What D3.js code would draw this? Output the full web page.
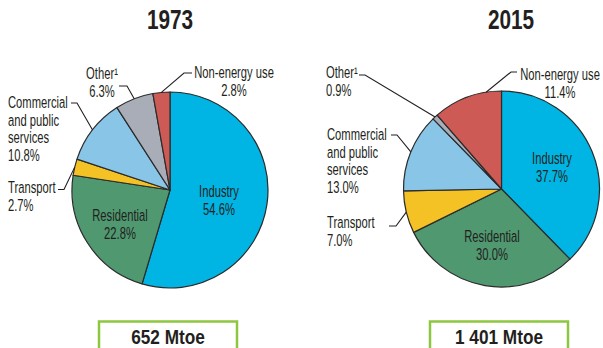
<!DOCTYPE html>
<html>
<head>
<meta charset="utf-8">
<script src="https://cdn.jsdelivr.net/npm/d3@7"></script>
<style>
  html, body { margin: 0; padding: 0; background: #ffffff; }
  svg { display: block; }
  text { font-family: "Liberation Sans", Arial, Helvetica, sans-serif; fill: #231f20; }
</style>
</head>
<body>
<svg id="chart" width="603" height="348"></svg>
<script>
// Final energy consumption by sector, shares in percent
const categories = ["Industry", "Residential", "Transport", "Commercial and public services", "Other\u00B9", "Non-energy use"];
const values1973 = [54.6, 22.8, 2.7, 10.8, 6.3, 2.8];
const values2015 = [37.7, 30.0, 7.0, 13.0, 0.9, 11.4];
const years = ["1973", "2015"];
const totals = ["652 Mtoe", "1 401 Mtoe"];
const sliceColors = ["#00b4e3", "#4f9870", "#f5c226", "#88c5e6", "#a8adb8", "#cd5a55"];

// Line breaks used for the sector names
const nameLines = {
  "Industry": ["Industry"],
  "Residential": ["Residential"],
  "Transport": ["Transport"],
  "Commercial and public services": ["Commercial", "and public", "services"],
  "Other\u00B9": ["Other\u00B9"],
  "Non-energy use": ["Non-energy use"]
};

// Placement of each pie and its labels
const panels = [
  {
    values: values1973, cx: 170, cy: 190, r: 98, titleX: 170, boxX: 99,
    labels: {
      "Industry":        { x: 219, y: 197, anchor: "middle" },
      "Residential":     { x: 120, y: 221, anchor: "middle" },
      "Transport":       { x: 8,   y: 193, anchor: "start",  leader: { x0: 58,  x1: 64,  y: 189.5 } },
      "Commercial and public services": { x: 8, y: 108, anchor: "start", leader: { x0: 71, x1: 77, y: 103 } },
      "Other\u00B9":     { x: 102, y: 79,  anchor: "middle", leader: { x0: 119, x1: 127, y: 86 } },
      "Non-energy use":  { x: 234, y: 78,  anchor: "middle", leader: { x0: 192, x1: 184, y: 73 } }
    }
  },
  {
    values: values2015, cx: 501.5, cy: 189, r: 98, titleX: 511, boxX: 430,
    labels: {
      "Industry":        { x: 552, y: 164, anchor: "middle" },
      "Residential":     { x: 492, y: 242, anchor: "middle" },
      "Transport":       { x: 327, y: 228, anchor: "start",  leader: { x0: 389, x1: 396, y: 226 } },
      "Commercial and public services": { x: 327, y: 140, anchor: "start", leader: { x0: 391, x1: 397, y: 135 } },
      "Other\u00B9":     { x: 326, y: 78,  anchor: "start",  leader: { x0: 359, x1: 365, y: 75 } },
      "Non-energy use":  { x: 560, y: 80,  anchor: "middle", leader: { x0: 517, x1: 511, y: 72, angleShift: 0.2 } }
    }
  }
];

const svg = d3.select("#chart");
const labelSize = 16.5, labelScale = 0.68, lineGap = 17.5;

const color = d3.scaleOrdinal().domain(categories).range(sliceColors);
const pie = d3.pie().sort(null).value(d => d.value);

// Condensed text: regular glyphs squeezed horizontally
function condensedText(g, x, y, str, opts) {
  return g.append("text")
    .attr("transform", `translate(${x},${y}) scale(${opts.sx},1)`)
    .attr("text-anchor", opts.anchor || "middle")
    .attr("font-size", opts.size)
    .attr("font-weight", opts.weight || "normal")
    .text(str);
}

panels.forEach((p, i) => {
  const data = categories.map((c, k) => ({ name: c, value: p.values[k] }));
  const arcs = pie(data);
  const arc = d3.arc().innerRadius(0).outerRadius(p.r);

  const g = svg.append("g");
  const pieG = g.append("g").attr("transform", `translate(${p.cx},${p.cy})`);

  pieG.selectAll("path")
    .data(arcs)
    .join("path")
    .attr("d", arc)
    .attr("fill", d => color(d.data.name))
    .attr("stroke", "#2b2b2b")
    .attr("stroke-width", 1.2)
    .attr("stroke-linejoin", "round");

  // Leader lines from outside labels to the slice edge
  arcs.forEach(a => {
    const L = p.labels[a.data.name];
    if (!L.leader) return;
    const ang = (a.startAngle + a.endAngle) / 2 + (L.leader.angleShift || 0);
    const ex = p.cx + p.r * Math.sin(ang);
    const ey = p.cy - p.r * Math.cos(ang);
    g.append("path")
      .attr("d", d3.line()([[L.leader.x0, L.leader.y], [L.leader.x1, L.leader.y], [ex, ey]]))
      .attr("fill", "none")
      .attr("stroke", "#231f20")
      .attr("stroke-width", 1.1);
  });

  // Sector names and shares
  arcs.forEach(a => {
    const L = p.labels[a.data.name];
    const lines = nameLines[a.data.name].concat([a.data.value.toFixed(1) + "%"]);
    lines.forEach((t, k) => {
      condensedText(g, L.x, L.y + k * lineGap, t, { sx: labelScale, size: labelSize, anchor: L.anchor });
    });
  });

  // Year heading
  condensedText(g, p.titleX, 29, years[i], { sx: 0.77, size: 27, weight: "bold" });

  // Total consumption box
  g.append("rect")
    .attr("x", p.boxX).attr("y", 321.5)
    .attr("width", 138).attr("height", 40)
    .attr("fill", "#ffffff")
    .attr("stroke", "#8dc63f")
    .attr("stroke-width", 2.5);
  condensedText(g, p.boxX + 69, 344, totals[i], { sx: 0.82, size: 21, weight: "bold" });
});
</script>
</body>
</html>
